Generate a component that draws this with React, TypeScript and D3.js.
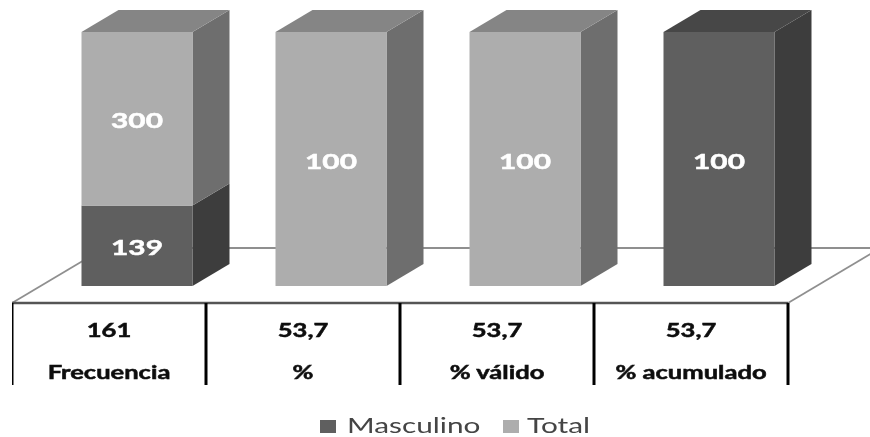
import * as d3 from "d3";

const categories = ["Frecuencia", "%", "% válido", "% acumulado"];
const tableValues = ["161", "53,7", "53,7", "53,7"];
const masculino = [139, 0, 0, 100];
const total = [300, 100, 100, 0];
const seriesNames = ["Masculino", "Total"];

const WIDTH = 870;
const HEIGHT = 437;
const FONT = "Lato, sans-serif";
const STRETCH = 1.42;

// front / side / top shade for each series
const shades = [
  { front: "#5e5e5e", side: "#3e3e3e", top: "#474747" },
  { front: "#adadad", side: "#6e6e6e", top: "#858585" },
];

const DEPTH_X = 37;
const DEPTH_Y = 22;
const BAR_OFFSET = 69.5;
const BAR_WIDTH = 111;
const FLOOR_Y = 303;
const BACK_Y = 248;

const xScale = d3.scaleBand().domain(categories).range([12, 788]);
const yScale = d3.scaleLinear().domain([0, 1]).range([286, 32]);

const rows = categories.map((c, i) => ({
  category: c,
  Masculino: masculino[i],
  Total: total[i],
}));

const series = d3
  .stack<any>()
  .keys(seriesNames)
  .offset(d3.stackOffsetExpand)(rows);

function StretchedText({ x, y, size, weight, fill, anchor, bold, children }: any) {
  return (
    <text
      transform={`translate(${x},${y}) scale(${STRETCH},1)`}
      fontFamily={FONT}
      fontSize={size}
      fontWeight={weight}
      fill={fill}
      stroke={bold ? fill : "none"}
      strokeWidth={bold ? 0.5 : 0}
      textAnchor={anchor}
    >
      {children}
    </text>
  );
}

export default function App() {
  const cellEdges = [...categories.map((c) => xScale(c)!), 788];
  const floorSlope = DEPTH_X / DEPTH_Y;
  const backLeft = 12 + (FLOOR_Y - BACK_Y) * floorSlope;
  const rightEnd = 788 + (FLOOR_Y - 254) * floorSlope;

  return (
    <svg
      width={WIDTH}
      height={HEIGHT}
      viewBox={`0 0 ${WIDTH} ${HEIGHT}`}
      style={{ position: "absolute", left: 0, top: 0, background: "#fff" }}
    >
      <defs>
        <filter id="soft" x="0" y="0" width="100%" height="100%">
          <feGaussianBlur stdDeviation="0.45" />
        </filter>
      </defs>
      <g filter="url(#soft)">
        {/* floor */}
        <g stroke="#8f8f8f" strokeWidth={1.8} fill="none">
          <line x1={12} y1={FLOOR_Y} x2={backLeft} y2={BACK_Y} />
          <line x1={backLeft} y1={BACK_Y} x2={WIDTH} y2={BACK_Y} />
          <line x1={788} y1={FLOOR_Y} x2={rightEnd} y2={254} />
        </g>

        {/* bars */}
        {series.map((serie, i) => (
          <g key={serie.key}>
            {serie.map((d, j) => {
              if (d[1] - d[0] === 0) return null;
              const x0 = xScale(categories[j])! + BAR_OFFSET;
              const x1 = x0 + BAR_WIDTH;
              const yTop = yScale(d[1]);
              const yBottom = yScale(d[0]);
              const side = `${x1},${yTop} ${x1 + DEPTH_X},${yTop - DEPTH_Y} ${x1 + DEPTH_X},${yBottom - DEPTH_Y} ${x1},${yBottom}`;
              const top = `${x0},${yTop} ${x0 + DEPTH_X},${yTop - DEPTH_Y} ${x1 + DEPTH_X},${yTop - DEPTH_Y} ${x1},${yTop}`;
              const value = i === 0 ? masculino[j] : total[j];
              return (
                <g key={j}>
                  <polygon points={side} fill={shades[i].side} />
                  {d[1] === 1 && <polygon points={top} fill={shades[i].top} />}
                  <rect
                    x={x0}
                    y={yTop}
                    width={BAR_WIDTH}
                    height={yBottom - yTop}
                    fill={shades[i].front}
                  />
                  <StretchedText
                    x={x0 + BAR_WIDTH / 2}
                    y={(yTop + yBottom) / 2 + 9.5}
                    size={21}
                    weight={700}
                    fill="#fff"
                    anchor="middle"
                    bold
                  >
                    {value}
                  </StretchedText>
                </g>
              );
            })}
          </g>
        ))}

        {/* data table */}
        <line x1={12} y1={FLOOR_Y} x2={788} y2={FLOOR_Y} stroke="#555" strokeWidth={2.4} />
        {cellEdges.map((x) => (
          <line key={x} x1={x} y1={FLOOR_Y} x2={x} y2={385} stroke="#000" strokeWidth={3} />
        ))}
        {categories.map((c, i) => {
          const cx = xScale(c)! + xScale.bandwidth() / 2;
          return (
            <g key={c}>
              <StretchedText x={cx} y={337} size={18} weight={700} fill="#111" anchor="middle" bold>
                {tableValues[i]}
              </StretchedText>
              <StretchedText x={cx} y={379} size={18} weight={700} fill="#111" anchor="middle" bold>
                {c}
              </StretchedText>
            </g>
          );
        })}

        {/* legend */}
        <rect x={320} y={420} width={16} height={13} fill={shades[0].front} />
        <StretchedText x={347} y={433} size={21} weight={400} fill="#444" anchor="start">
          {seriesNames[0]}
        </StretchedText>
        <rect x={503} y={420} width={16} height={13} fill={shades[1].front} />
        <StretchedText x={527} y={433} size={21} weight={400} fill="#444" anchor="start">
          {seriesNames[1]}
        </StretchedText>
      </g>
    </svg>
  );
}
